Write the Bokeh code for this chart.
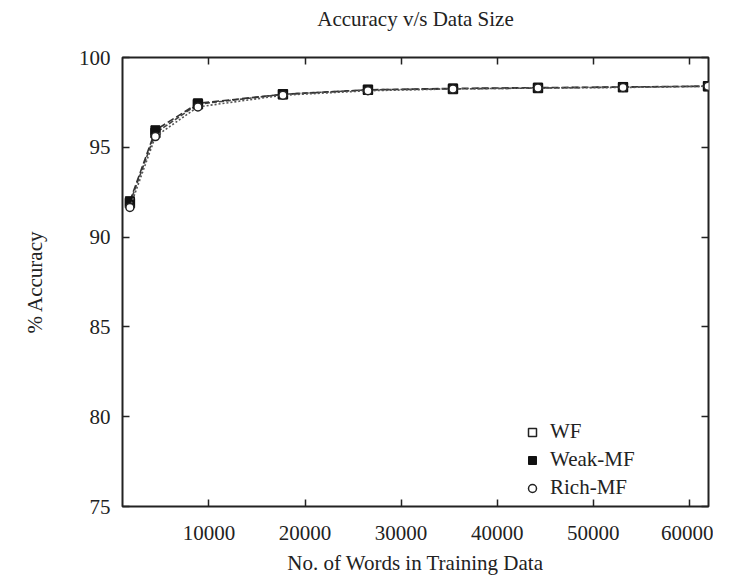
from bokeh.plotting import figure
from bokeh.models import (ColumnDataSource, LinearAxis, FixedTicker, Range1d,
                          Legend, LegendItem)
from bokeh.embed import file_html
from bokeh.resources import INLINE

# ---- data ----
words = [1770, 4425, 8850, 17700, 26550, 35400, 44250, 53100, 61950]
wf = [91.9, 95.8, 97.4, 97.95, 98.2, 98.25, 98.3, 98.35, 98.4]
weak_mf = [92.0, 95.95, 97.45, 97.95, 98.2, 98.28, 98.32, 98.36, 98.4]
rich_mf = [91.65, 95.6, 97.25, 97.9, 98.15, 98.25, 98.3, 98.33, 98.4]
x_ticks = [10000, 20000, 30000, 40000, 50000, 60000]
y_ticks = [75, 80, 85, 90, 95, 100]
title_text = "Accuracy v/s Data Size"

FONT = "Liberation Serif"
FS = "21px"

p = figure(width=713, height=578, output_backend="svg", toolbar_location=None,
           x_range=Range1d(1000, 62000), y_range=Range1d(75, 100),
           min_border_left=122, min_border_right=5, min_border_top=57,
           min_border_bottom=72, title=None)

p.grid.visible = False
p.outline_line_color = "#222222"
p.outline_line_width = 2

for ax in (p.xaxis[0], p.yaxis[0]):
    ax.axis_line_color = None
    ax.major_tick_in = 7
    ax.major_tick_out = 0
    ax.minor_tick_line_color = None
    ax.major_tick_line_color = "#222222"
    ax.major_tick_line_width = 1.5
    ax.major_label_text_font = FONT
    ax.major_label_text_font_size = FS
    ax.major_label_text_color = "#222222"
    ax.axis_label_text_font = FONT
    ax.axis_label_text_font_size = FS
    ax.axis_label_text_font_style = "normal"
    ax.axis_label_text_color = "#222222"

p.xaxis[0].ticker = FixedTicker(ticks=x_ticks)
p.yaxis[0].ticker = FixedTicker(ticks=y_ticks)
p.xaxis[0].axis_label = "No. of Words in Training Data"
p.yaxis[0].axis_label = "% Accuracy"
p.xaxis[0].major_label_standoff = 19
p.yaxis[0].major_label_standoff = 12
p.xaxis[0].axis_label_standoff = 8
p.xaxis[0].axis_label_text_line_height = 0.6
p.xaxis[0].major_label_text_line_height = 0.8
p.yaxis[0].axis_label_standoff = 29

# mirrored ticks on top (carrying the chart title) and on the right
top = LinearAxis(ticker=FixedTicker(ticks=x_ticks), axis_line_color=None,
                 major_tick_in=7, major_tick_out=0, minor_tick_line_color=None,
                 major_tick_line_color="#222222", major_tick_line_width=1.5,
                 major_label_text_font_size="0px", major_label_standoff=0,
                 axis_label=title_text, axis_label_text_font=FONT,
                 axis_label_text_font_size=FS,
                 axis_label_text_font_style="normal",
                 axis_label_text_color="#222222", axis_label_standoff=27)
right = LinearAxis(ticker=FixedTicker(ticks=y_ticks), axis_line_color=None,
                   major_tick_in=7, major_tick_out=0, minor_tick_line_color=None,
                   major_tick_line_color="#222222", major_tick_line_width=1.5,
                   major_label_text_font_size="0px", major_label_standoff=0)
p.add_layout(top, "above")
p.add_layout(right, "right")

src = ColumnDataSource(dict(x=words, wf=wf, weak=weak_mf, rich=rich_mf))

l1 = p.line("x", "wf", source=src, line_color="#444444", line_width=1.6,
            line_dash="5 2")
m1 = p.scatter("x", "wf", source=src, marker="square", size=9,
               fill_color="white", line_color="#222222", line_width=1.5)
l2 = p.line("x", "weak", source=src, line_color="#333333", line_width=1.6,
            line_dash="7 3")
m2 = p.scatter("x", "weak", source=src, marker="square", size=9,
               fill_color="#111111", line_color="#111111")
l3 = p.line("x", "rich", source=src, line_color="#555555", line_width=1.6,
            line_dash="2 2")
m3 = p.scatter("x", "rich", source=src, marker="circle", size=8,
               fill_color="white", line_color="#222222", line_width=1.5)

legend = Legend(items=[LegendItem(label="WF", renderers=[m1]),
                       LegendItem(label="Weak-MF", renderers=[m2]),
                       LegendItem(label="Rich-MF", renderers=[m3])],
                location=(400, 6), border_line_color=None,
                background_fill_alpha=0, padding=5, spacing=3,
                label_text_font=FONT, label_text_font_size=FS,
                label_text_color="#222222", glyph_width=20, glyph_height=20,
                label_height=20, label_standoff=8)
p.add_layout(legend, "center")

open("out.html", "w").write(file_html(p, INLINE))
